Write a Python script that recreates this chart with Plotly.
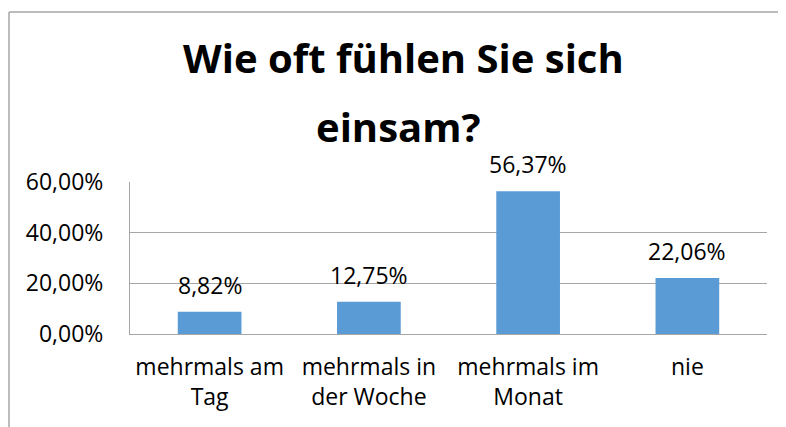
import plotly.graph_objects as go

categories = ["mehrmals am<br>Tag", "mehrmals in<br>der Woche", "mehrmals im<br>Monat", "nie"]
values = [0.0882, 0.1275, 0.5637, 0.2206]
y_ticks = [0, 0.2, 0.4, 0.6]
title_lines = ["Wie oft fühlen Sie sich", "einsam?"]

# page is rendered with an 8px body offset
W, H = 778, 419
L, R, T, B = 122, 19, 174, 93
ph = H - T - B
pw = W - L - R
FONT = "Open Sans, Noto Sans, sans-serif"

def px_x(x):
    return (x - L) / pw

def px_y(y):
    return (H - B - y) / ph

fig = go.Figure(go.Bar(
    x=categories, y=values,
    marker=dict(color="#5B9BD5", line=dict(width=0)),
    width=0.4,
    hoverinfo="x+y",
))

annotations = []
for c, v in zip(categories, values):
    annotations.append(dict(x=c, y=v, xref="x", yref="y", text=f"{v*100:.2f}%".replace(".", ","),
                            showarrow=False, yanchor="bottom", yshift=9,
                            font=dict(size=23, family=FONT, color="#000000")))
for i, (t, xc, yc) in enumerate(zip(title_lines, [395, 390], [50, 118])):
    annotations.append(dict(x=px_x(xc), y=px_y(yc), xref="paper", yref="paper", text=f"<b>{t}</b>",
                            showarrow=False, xanchor="center", yanchor="middle",
                            font=dict(size=40, family=FONT, color="#000000")))

fig.update_layout(
    width=W, height=H,
    margin=dict(l=L, r=R, t=T, b=B),
    paper_bgcolor="white", plot_bgcolor="white",
    separators=",.",
    font=dict(family=FONT, size=23, color="#000000"),
    showlegend=False,
    annotations=annotations,
    shapes=[
        dict(type="line", xref="paper", yref="paper", x0=px_x(1), x1=px_x(1), y0=px_y(4), y1=px_y(H + 5),
             line=dict(color="#A6A6A6", width=1.5)),
        dict(type="line", xref="paper", yref="paper", x0=px_x(1), x1=px_x(W + 5), y0=px_y(4), y1=px_y(4),
             line=dict(color="#A6A6A6", width=1.5)),
    ],
)
fig.update_yaxes(range=[0, 0.6], tickvals=y_ticks, tickformat=".2%", showgrid=True,
                 gridcolor="#A6A6A6", gridwidth=1, showline=True, linecolor="#A6A6A6",
                 zeroline=False, ticks="", ticklabelstandoff=21, tickfont=dict(size=23))
fig.update_xaxes(showline=True, linecolor="#A6A6A6", ticks="", ticklabelstandoff=12,
                 tickfont=dict(size=23))

fig.write_html("out.html")
